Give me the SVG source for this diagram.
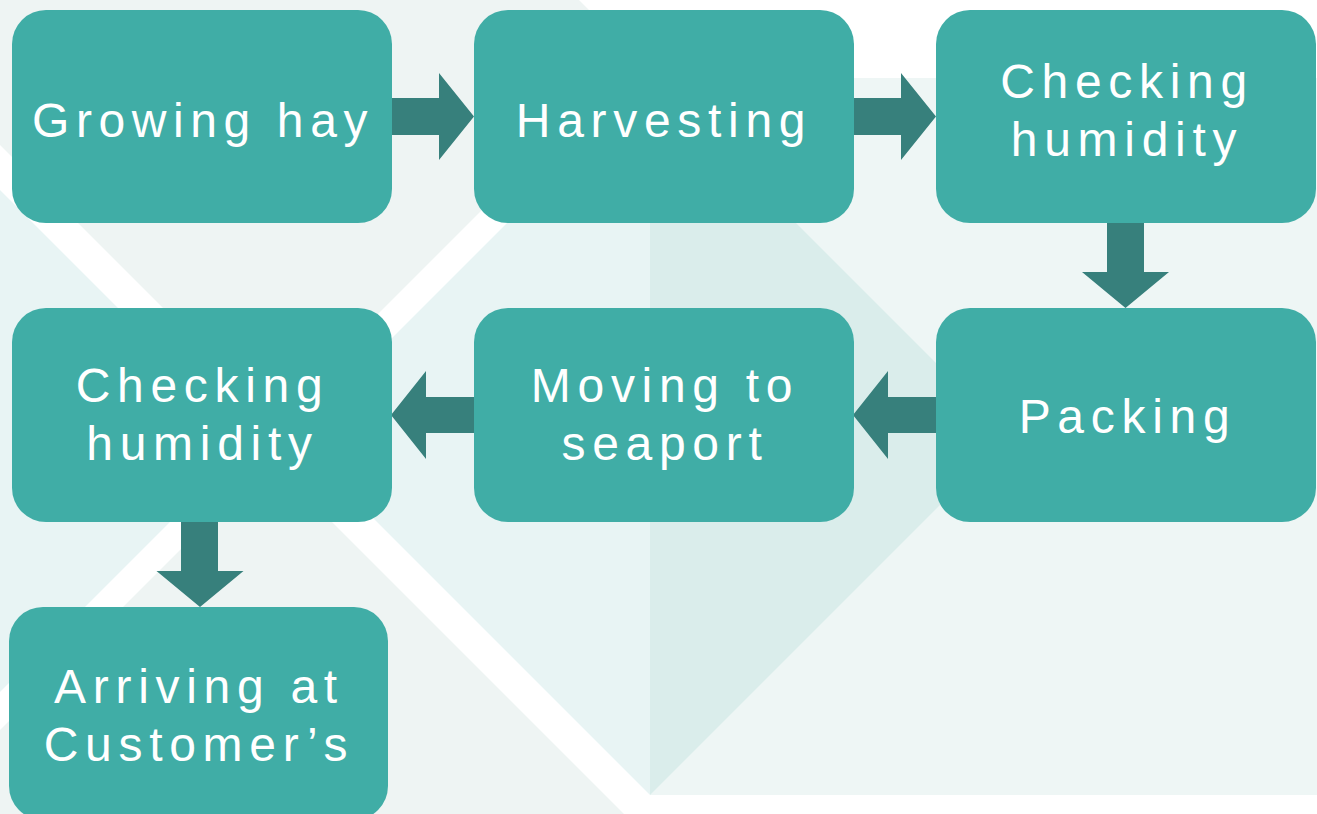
<svg xmlns="http://www.w3.org/2000/svg" width="1317" height="814" viewBox="0 0 1317 814">
<style>
.box{fill:#40ADA6}
.arrow{fill:#37807C}
.lbl{font-family:"Liberation Sans",Arial,sans-serif;font-size:48px;fill:#ffffff;letter-spacing:6.7px;text-anchor:middle}
</style>
<g id="background">
<rect x="0" y="0" width="1317" height="814" fill="#ffffff"/>
<rect x="0" y="0" width="650" height="814" fill="#EEF4F3"/>
<polygon points="0,167.5 271.75,439.25 0,711" fill="#E8F4F4"/>
<polygon points="271.75,439.25 650,61 650,817.5" fill="#E8F4F4"/>
<polygon points="0,145 669,814 624,814 0,190" fill="#ffffff"/>
<polygon points="692,0 730,0 0,730 0,692" fill="#ffffff"/>
<polygon points="579,0 650,0 650,71" fill="#ffffff"/>
<rect x="650" y="78" width="667" height="717" fill="#EEF6F5"/>
<polygon points="650,77 1009,436 650,795" fill="#DAEDEB"/>
</g>
<g id="connectors">
<polygon class="arrow" points="391,98 439,98 439,73 474,116.5 439,160 439,135 391,135"/>
<polygon class="arrow" points="853,98 901,98 901,73 936,116.5 901,160 901,135 853,135"/>
<polygon class="arrow" points="1107,222 1144,222 1144,272 1169,272 1125.5,308 1082,272 1107,272"/>
<polygon class="arrow" points="936,397 888,397 888,371 853,415 888,459 888,433 936,433"/>
<polygon class="arrow" points="474,397 426,397 426,371 391,415 426,459 426,433 474,433"/>
<polygon class="arrow" points="181,522 218,522 218,571 243.5,571 200,607 156.5,571 181,571"/>
</g>
<g id="node-growing">
<rect class="box" x="12" y="10" width="380" height="213" rx="34" ry="34"/>
<text class="lbl" x="203" y="137" style="letter-spacing:6.6px">Growing hay</text>
</g>
<g id="node-harvesting">
<rect class="box" x="474" y="10" width="380" height="213" rx="34" ry="34"/>
<text class="lbl" x="664" y="137">Harvesting</text>
</g>
<g id="node-checking1">
<rect class="box" x="936" y="10" width="380" height="213" rx="34" ry="34"/>
<text class="lbl" x="1127" y="98">Checking</text>
<text class="lbl" x="1127" y="156">humidity</text>
</g>
<g id="node-packing">
<rect class="box" x="936" y="308" width="380" height="214" rx="34" ry="34"/>
<text class="lbl" x="1127.5" y="433">Packing</text>
</g>
<g id="node-moving">
<rect class="box" x="474" y="308" width="380" height="214" rx="34" ry="34"/>
<text class="lbl" x="665" y="402">Moving to</text>
<text class="lbl" x="665" y="460">seaport</text>
</g>
<g id="node-checking2">
<rect class="box" x="12" y="308" width="380" height="214" rx="34" ry="34"/>
<text class="lbl" x="202.5" y="402">Checking</text>
<text class="lbl" x="202.5" y="460">humidity</text>
</g>
<g id="node-arriving">
<rect class="box" x="9" y="607" width="379" height="213" rx="34" ry="34"/>
<text class="lbl" x="199" y="703">Arriving at</text>
<text class="lbl" x="199" y="761">Customer’s</text>
</g>
</svg>
